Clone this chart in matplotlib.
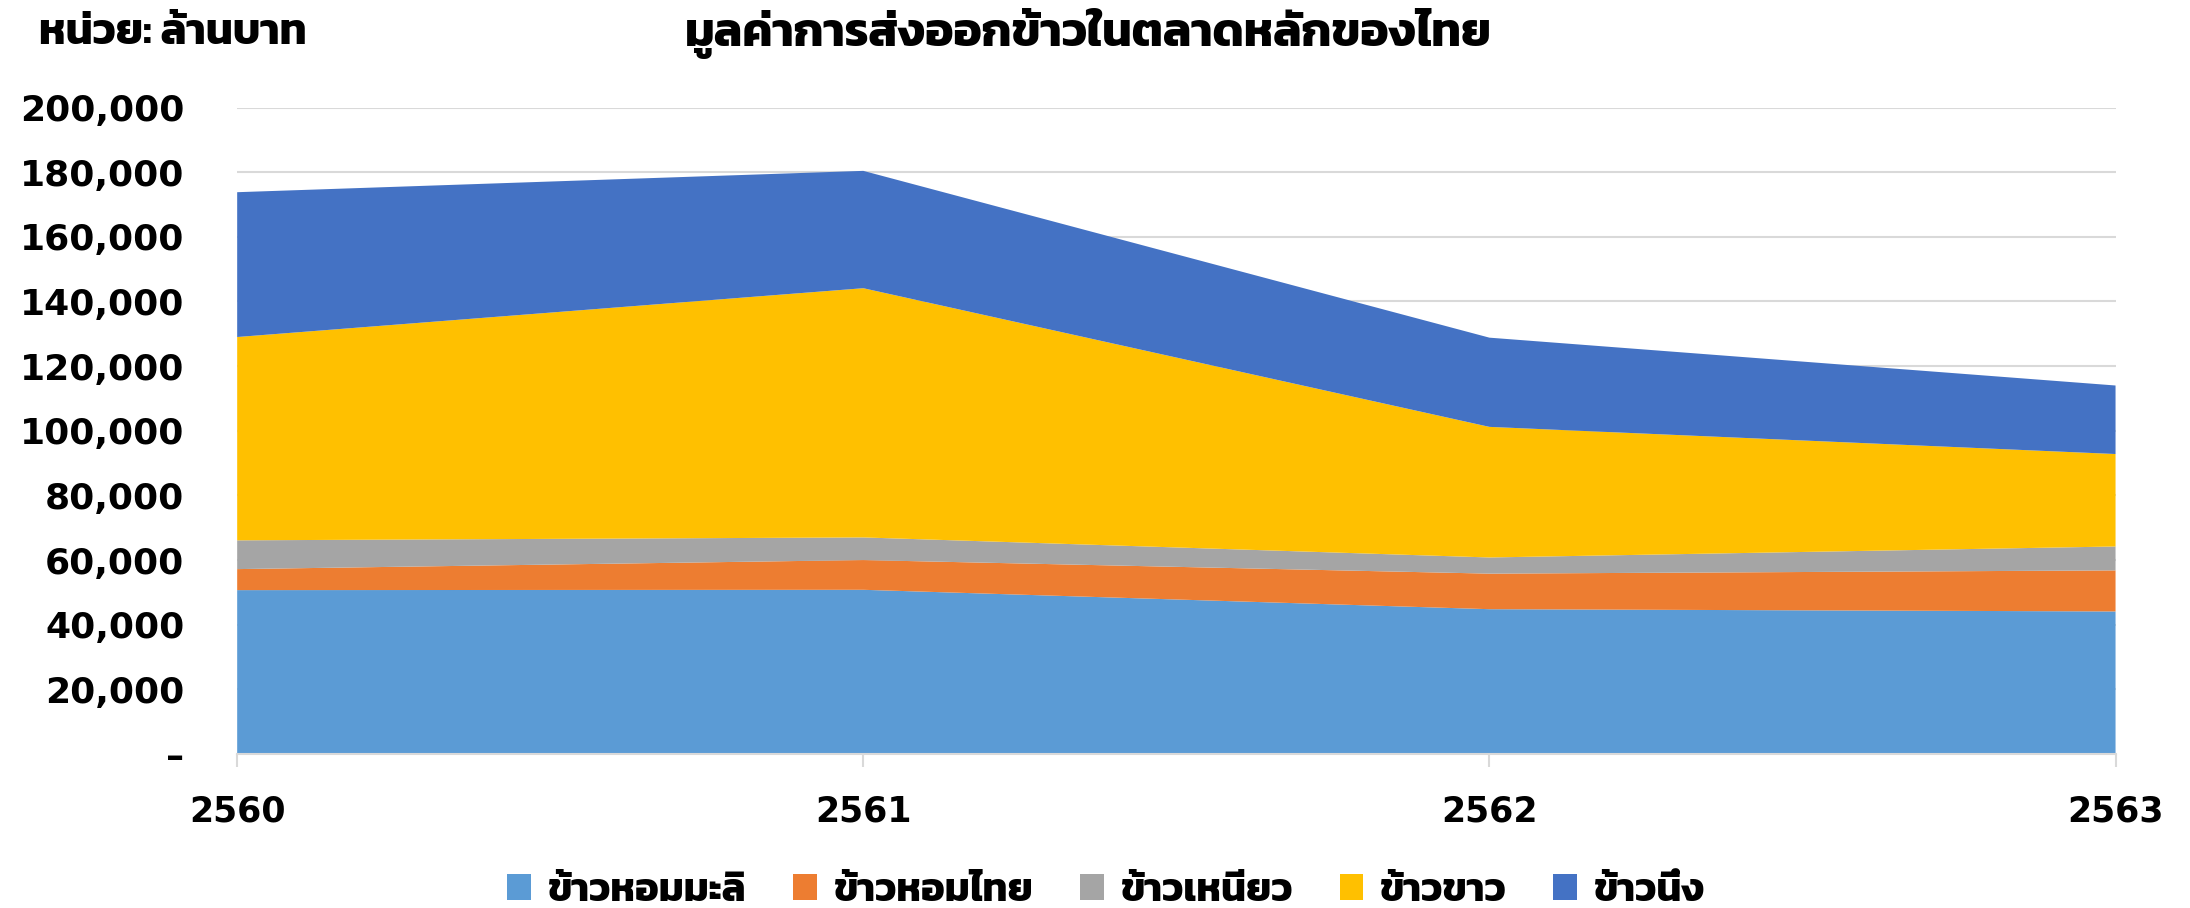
import matplotlib
matplotlib.use('Agg')
import matplotlib.pyplot as plt
from matplotlib import font_manager
from matplotlib.ft2font import FT2Font
from matplotlib.ticker import FuncFormatter

# ---- data ----
years = ['2560', '2561', '2562', '2563']
series_names = ['ข้าวหอมมะลิ', 'ข้าวหอมไทย', 'ข้าวเหนียว', 'ข้าวขาว', 'ข้าวนึ่ง']
hom_mali = [50700, 50800, 44800, 44100]
hom_thai = [6500, 9200, 11000, 12700]
niao = [8900, 7000, 5000, 7400]
khao_khao = [62900, 77100, 40400, 28600]
nueng = [44800, 36300, 27600, 21200]
colors = ['#5B9BD5', '#ED7D31', '#A5A5A5', '#FFC000', '#4472C4']
title = 'มูลค่าการส่งออกข้าวในตลาดหลักของไทย'
unit = 'หน่วย: ล้านบาท'


def find_thai_family():
    best = None
    for f in font_manager.fontManager.ttflist:
        try:
            cm = FT2Font(f.fname).get_charmap()
        except Exception:
            continue
        if ord('ก') in cm and ord('ข') in cm and ord('้') in cm:
            w = f.weight if isinstance(f.weight, int) else (700 if 'bold' in str(f.weight).lower() else 400)
            if best is None or w > best[0]:
                best = (w, f.name)
    return best[1] if best else None


thai = find_thai_family()
fam = ([thai] if thai else []) + ['DejaVu Sans']
plt.rcParams['font.family'] = fam

fig = plt.figure(figsize=(21.9, 9.08), dpi=100)
ax = fig.add_axes([0.1083, 0.1696, 0.966 - 0.1083, 0.8816 - 0.1696])

x = list(range(len(years)))
ax.stackplot(x, hom_mali, hom_thai, niao, khao_khao, nueng,
             colors=colors, labels=series_names, edgecolor='none', zorder=2)

ax.set_xlim(0, len(years) - 1)
ax.set_ylim(0, 200000)
ax.set_yticks(range(0, 200001, 20000))
ax.yaxis.set_major_formatter(FuncFormatter(lambda v, p: '–' if v == 0 else f'{int(v):,}'))
ax.set_xticks(x)
ax.set_xticklabels(years)

ax.grid(axis='y', color='#D9D9D9', linewidth=1.5, zorder=0)
ax.set_axisbelow(True)
for s in ['top', 'right', 'left']:
    ax.spines[s].set_visible(False)
ax.spines['bottom'].set_color('#D9D9D9')
ax.spines['bottom'].set_linewidth(1.5)

ax.tick_params(axis='y', length=0, pad=38)
ax.tick_params(axis='x', length=9, color='#D9D9D9', width=1.5, pad=20)
for lbl in ax.get_yticklabels():
    lbl.set_fontsize(26)
    lbl.set_fontweight('bold')
    lbl.set_family(['DejaVu Sans'])
for lbl in ax.get_xticklabels():
    lbl.set_fontsize(25)
    lbl.set_fontweight('bold')
    lbl.set_family(['DejaVu Sans'])

fig.text(0.497, 0.963, title, ha='center', va='center', fontsize=34, fontweight='bold', family=fam)
fig.text(0.018, 0.963, unit, ha='left', va='center', fontsize=31, fontweight='bold', family=fam)

handles, labels = ax.get_legend_handles_labels()
leg = fig.legend(handles, labels, loc='center', bbox_to_anchor=(0.505, 0.018), ncol=5,
                 frameon=False, handlelength=0.6, handleheight=0.6, handletextpad=0.4,
                 columnspacing=1.2, prop={'size': 28.5, 'weight': 'bold', 'family': fam})

fig.savefig('out.png', dpi=100)
